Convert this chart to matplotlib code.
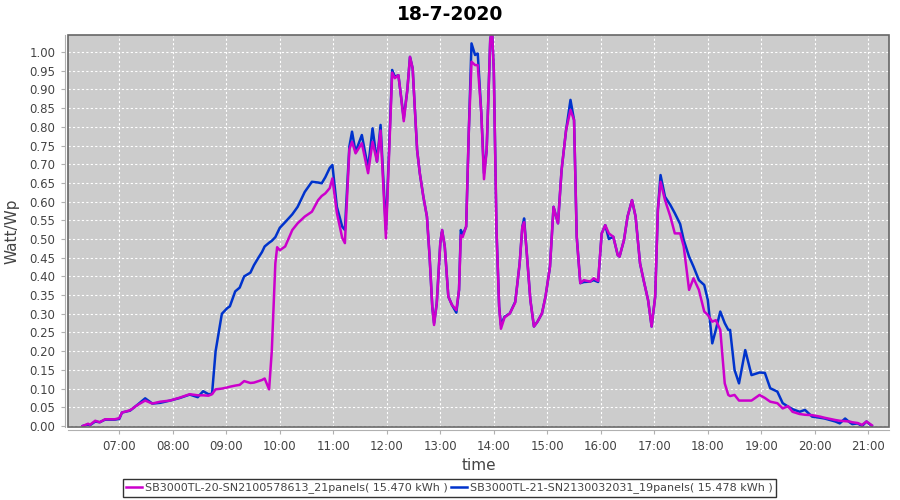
import matplotlib
matplotlib.use('Agg')
import matplotlib.pyplot as plt
from matplotlib.patches import Rectangle
from matplotlib.ticker import FuncFormatter, MultipleLocator

# Time of each sample (HH:MM) and the two inverter series (Watt/Wp)
times = [
    '06:19', '06:25', '06:27', '06:33', '06:38', '06:44', '06:55', '07:00', '07:03', '07:12',
    '07:21', '07:29', '07:37', '07:46', '07:57', '08:08', '08:19', '08:28', '08:34', '08:40',
    '08:44', '08:48', '08:55', '09:01', '09:04', '09:10', '09:15', '09:20', '09:27', '09:31',
    '09:36', '09:40', '09:43', '09:48', '09:51', '09:55', '09:57', '10:00', '10:06', '10:14',
    '10:20', '10:28', '10:36', '10:43', '10:47', '10:51', '10:56', '10:59', '11:04', '11:10',
    '11:13', '11:18', '11:21', '11:25', '11:32', '11:39', '11:44', '11:49', '11:53', '11:59',
    '12:06', '12:09', '12:13', '12:16', '12:19', '12:23', '12:26', '12:29', '12:34', '12:37',
    '12:41', '12:45', '12:48', '12:51', '12:53', '12:56', '13:00', '13:02', '13:05', '13:09',
    '13:13', '13:18', '13:21', '13:23', '13:25', '13:29', '13:32', '13:35', '13:39', '13:42',
    '13:46', '13:49', '13:52', '13:56', '13:58', '14:00', '14:03', '14:06', '14:08', '14:12',
    '14:18', '14:24', '14:26', '14:29', '14:32', '14:34', '14:37', '14:41', '14:45', '14:49',
    '14:54', '14:58', '15:03', '15:07', '15:12', '15:16', '15:21', '15:26', '15:30', '15:33',
    '15:37', '15:41', '15:48', '15:52', '15:57', '16:01', '16:05', '16:09', '16:14', '16:19',
    '16:21', '16:26', '16:30', '16:35', '16:39', '16:44', '16:48', '16:53', '16:57', '17:01',
    '17:04', '17:07', '17:12', '17:18', '17:23', '17:29', '17:33', '17:39', '17:44', '17:50',
    '17:56', '18:00', '18:05', '18:09', '18:14', '18:19', '18:23', '18:25', '18:30', '18:35',
    '18:42', '18:49', '18:58', '19:04', '19:10', '19:18', '19:24', '19:30', '19:35', '19:43',
    '19:49', '19:57', '20:06', '20:11', '20:23', '20:28', '20:34', '20:39', '20:42', '20:48',
    '20:53', '20:58', '21:04',
]

sb20 = [
    0.000, 0.006, 0.003, 0.014, 0.010, 0.018, 0.018, 0.021, 0.036, 0.042,
    0.057, 0.068, 0.060, 0.065, 0.068, 0.076, 0.085, 0.082, 0.082, 0.081,
    0.085, 0.098, 0.100, 0.103, 0.105, 0.108, 0.110, 0.120, 0.115, 0.116,
    0.120, 0.123, 0.127, 0.098, 0.200, 0.435, 0.478, 0.470, 0.480, 0.524,
    0.542, 0.560, 0.573, 0.604, 0.615, 0.622, 0.636, 0.662, 0.570, 0.503,
    0.489, 0.740, 0.760, 0.729, 0.756, 0.676, 0.760, 0.707, 0.790, 0.502,
    0.945, 0.930, 0.938, 0.880, 0.815, 0.898, 0.987, 0.956, 0.738, 0.676,
    0.613, 0.560, 0.453, 0.319, 0.270, 0.328, 0.489, 0.524, 0.480, 0.346,
    0.324, 0.310, 0.364, 0.510, 0.505, 0.533, 0.790, 0.974, 0.965, 0.965,
    0.836, 0.660, 0.738, 1.032, 1.060, 0.952, 0.524, 0.319, 0.260, 0.290,
    0.301, 0.330, 0.372, 0.435, 0.533, 0.545, 0.462, 0.337, 0.266, 0.279,
    0.301, 0.346, 0.426, 0.586, 0.542, 0.684, 0.790, 0.845, 0.818, 0.506,
    0.382, 0.390, 0.386, 0.395, 0.388, 0.515, 0.537, 0.515, 0.506, 0.457,
    0.453, 0.497, 0.560, 0.604, 0.560, 0.435, 0.390, 0.337, 0.266, 0.346,
    0.578, 0.653, 0.604, 0.560, 0.515, 0.515, 0.480, 0.364, 0.395, 0.364,
    0.306, 0.297, 0.279, 0.283, 0.257, 0.114, 0.083, 0.080, 0.083, 0.068,
    0.068, 0.068, 0.083, 0.075, 0.065, 0.061, 0.047, 0.053, 0.038, 0.032,
    0.030, 0.029, 0.025, 0.022, 0.016, 0.014, 0.013, 0.012, 0.010, 0.008,
    0.003, 0.012, 0.002,
]

sb21 = [
    0.000, 0.004, 0.002, 0.012, 0.010, 0.017, 0.017, 0.019, 0.036, 0.041,
    0.058, 0.074, 0.060, 0.062, 0.068, 0.075, 0.084, 0.077, 0.093, 0.085,
    0.086, 0.200, 0.300, 0.315, 0.320, 0.360, 0.370, 0.400, 0.410, 0.430,
    0.450, 0.465, 0.480, 0.490, 0.495, 0.505, 0.515, 0.530, 0.545, 0.566,
    0.586, 0.626, 0.653, 0.651, 0.649, 0.665, 0.690, 0.698, 0.586, 0.533,
    0.524, 0.747, 0.787, 0.733, 0.778, 0.689, 0.796, 0.707, 0.805, 0.524,
    0.952, 0.934, 0.938, 0.880, 0.823, 0.898, 0.987, 0.956, 0.738, 0.676,
    0.613, 0.560, 0.453, 0.319, 0.275, 0.328, 0.489, 0.524, 0.480, 0.346,
    0.324, 0.303, 0.364, 0.524, 0.511, 0.533, 0.790, 1.023, 0.992, 0.996,
    0.836, 0.676, 0.738, 1.032, 1.060, 0.952, 0.524, 0.319, 0.270, 0.292,
    0.301, 0.332, 0.372, 0.435, 0.533, 0.555, 0.462, 0.337, 0.266, 0.279,
    0.301, 0.346, 0.426, 0.586, 0.542, 0.684, 0.790, 0.872, 0.818, 0.506,
    0.382, 0.385, 0.386, 0.390, 0.385, 0.515, 0.537, 0.500, 0.506, 0.457,
    0.453, 0.497, 0.560, 0.604, 0.560, 0.435, 0.390, 0.337, 0.266, 0.346,
    0.578, 0.671, 0.613, 0.591, 0.569, 0.540, 0.497, 0.453, 0.426, 0.390,
    0.377, 0.337, 0.221, 0.257, 0.306, 0.275, 0.257, 0.257, 0.150, 0.114,
    0.203, 0.136, 0.143, 0.142, 0.101, 0.092, 0.061, 0.052, 0.045, 0.038,
    0.043, 0.025, 0.022, 0.020, 0.012, 0.007, 0.020, 0.010, 0.005, 0.007,
    0.000, 0.012, 0.000,
]

labels = [
    'SB3000TL-20-SN2100578613_21panels( 15.470 kWh )',
    'SB3000TL-21-SN2130032031_19panels( 15.478 kWh )',
]
colors = ['#cc00cc', '#0033cc']


def to_hours(s):
    h, m = s.split(':')
    return int(h) + int(m) / 60.0


x = [to_hours(t) for t in times]

fig = plt.figure(figsize=(9, 5), dpi=100)
ax = fig.add_axes([68 / 900, 1 - 427 / 500, 821 / 900, 392 / 500])
ax.set_facecolor('#cccccc')

ax.plot(x, sb21, color=colors[1], lw=1.8, label=labels[1], zorder=3)
ax.plot(x, sb20, color=colors[0], lw=1.8, label=labels[0], zorder=4)

ax.set_xlim(6.041, 21.387)
ax.set_ylim(-0.0027, 1.0455)

ax.xaxis.set_major_locator(MultipleLocator(1))
ax.xaxis.set_major_formatter(FuncFormatter(lambda v, p: '%02d:00' % int(round(v))))
ax.yaxis.set_major_locator(MultipleLocator(0.05))
ax.yaxis.set_major_formatter(FuncFormatter(lambda v, p: '%.2f' % v))

ax.grid(True, color='white', lw=0.8, ls=(0, (2, 2)))
ax.set_axisbelow(True)

# JFreeChart style: axis lines sit a few pixels away from the plot border
for s in ['top', 'right']:
    ax.spines[s].set_visible(False)
for s in ['left', 'bottom']:
    ax.spines[s].set_position(('outward', 2.5))
    ax.spines[s].set_color('#b0b0b0')
ax.add_patch(Rectangle((0, 0), 1, 1, transform=ax.transAxes, fill=False,
                       edgecolor='#666666', lw=1.2, zorder=5, clip_on=False))

ax.tick_params(axis='both', colors='#b0b0b0', labelcolor='#444444',
               labelsize=8.5, length=3, width=0.8)

ax.set_xlabel('time', fontsize=11, color='#444444', labelpad=4)
ax.set_ylabel('Watt/Wp', fontsize=11, color='#444444', labelpad=7)
fig.suptitle('18-7-2020', fontsize=13.5, fontweight='bold', y=0.99)

handles, labs = ax.get_legend_handles_labels()
leg = fig.legend(handles[::-1], labs[::-1], loc='center', bbox_to_anchor=(449.5 / 900, 1 - 488 / 500),
                 ncol=2, fontsize=8, frameon=True, fancybox=False, shadow=False,
                 handlelength=1.4, handletextpad=0.3, columnspacing=0.3,
                 borderpad=0.3, borderaxespad=0)
leg.get_frame().set_edgecolor('black')
leg.get_frame().set_linewidth(1.0)
for t in leg.get_texts():
    t.set_color('#444444')

plt.savefig('out.png', dpi=100)
